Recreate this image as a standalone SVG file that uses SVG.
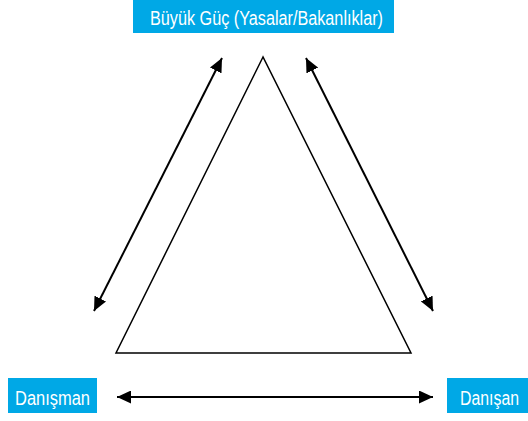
<svg xmlns="http://www.w3.org/2000/svg" width="528" height="421" viewBox="0 0 528 421">
<style>
.box{fill:#00a8e6}
.lbl{font-family:"Liberation Sans",Arial,sans-serif;fill:#fff;font-size:20px}
.conn{stroke:#000;stroke-width:2;fill:none}
.tri{stroke:#000;stroke-width:1.5;fill:none}
</style>
<defs>
<marker id="ah" markerUnits="userSpaceOnUse" markerWidth="15" markerHeight="13" viewBox="0 0 15 13" refX="14" refY="6.5" orient="auto-start-reverse">
<path d="M0,0 L14,6.5 L0,13 Z" fill="#000"/>
</marker>
</defs>
<g id="triangle"><polygon class="tri" points="263,57 116,353 411,353"/></g>
<g id="node-top">
<rect class="box" x="133" y="0" width="261" height="33"/>
<text class="lbl" x="150" y="25" textLength="233" lengthAdjust="spacingAndGlyphs">Büyük Güç (Yasalar/Bakanlıklar)</text>
</g>
<g id="node-left">
<rect class="box" x="8" y="378" width="89" height="35"/>
<text class="lbl" x="15" y="405" textLength="75" lengthAdjust="spacingAndGlyphs">Danışman</text>
</g>
<g id="node-right">
<rect class="box" x="447" y="378" width="81" height="35"/>
<text class="lbl" x="460" y="405" textLength="59" lengthAdjust="spacingAndGlyphs">Danışan</text>
</g>
<g id="connectors">
<line class="conn" x1="222" y1="58" x2="94" y2="311" marker-start="url(#ah)" marker-end="url(#ah)"/>
<line class="conn" x1="306" y1="58" x2="433" y2="311" marker-start="url(#ah)" marker-end="url(#ah)"/>
<line class="conn" x1="117" y1="397" x2="433" y2="397" marker-start="url(#ah)" marker-end="url(#ah)"/>
</g>
</svg>
